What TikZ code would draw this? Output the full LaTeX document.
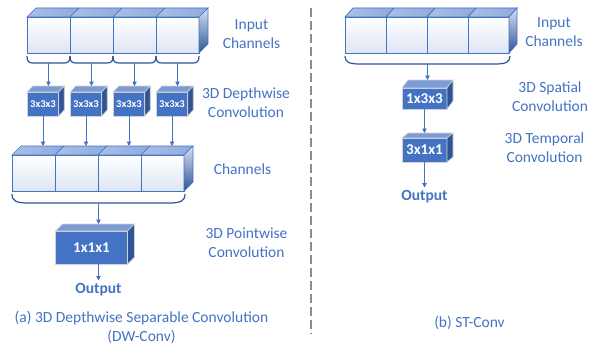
\documentclass[tikz,border=0pt]{standalone}
\usepackage{fontspec}
\setmainfont{Carlito}
\usetikzlibrary{calc,arrows.meta}

\definecolor{ublue}{HTML}{4472C4}
\definecolor{dblue}{HTML}{2F5597}
\definecolor{lblue}{HTML}{8FAADC}
\definecolor{rulegray}{HTML}{8C8C8C}

% top face of a box drawn behind the front face node #1, depth (#2 right, #3 up)
\newcommand\topface[4]{%
  \path[#4] (#1.north west) -- (#1.north east) -- ($(#1.north east)+(#2,-#3)$)
    -- ($(#1.north west)+(#2,-#3)$) -- cycle;}
% right side face of a box
\newcommand\sideface[4]{%
  \path[#4] (#1.north east) -- ($(#1.north east)+(#2,-#3)$)
    -- ($(#1.south east)+(#2,-#3)$) -- (#1.south east) -- cycle;}
% rounded bracket under a row of cells: x0, x1, ytop, depth, corner width
\newcommand\cupbrace[5]{%
  \draw[bracket] ({#1},{#3}) .. controls ({#1},{#3+#4*0.8}) and ({#1+#5*0.3},{#3+#4}) .. ({#1+#5},{#3+#4})
    -- ({#2-#5},{#3+#4}) .. controls ({#2-#5*0.3},{#3+#4}) and ({#2},{#3+#4*0.8}) .. ({#2},{#3});}

\begin{document}
\begin{tikzpicture}[x=1pt,y=-1pt,
  cubeface/.style={draw=ublue, line width=0.7pt, inner sep=0pt, outer sep=0pt,
    shading angle=-35, top color=white, bottom color=lblue!30},
  celltop/.style={draw=ublue, line width=0.7pt, left color=lblue!75, middle color=white, right color=lblue},
  cellside/.style={draw=ublue, line width=0.7pt, top color=lblue!35, bottom color=dblue},
  bluefront/.style={draw=gray!35, line width=0.6pt, fill=ublue, text=white,
    inner sep=0pt, outer sep=0pt, font=\bfseries\fontsize{15}{18}\selectfont},
  bluetop/.style={draw=gray!35, line width=0.6pt, fill=lblue!75!ublue},
  blueside/.style={draw=gray!35, line width=0.6pt, fill=dblue},
  bracket/.style={draw=dblue, line width=1.2pt},
  conn/.style={draw=ublue, line width=0.9pt, -{Triangle[length=4.5pt,width=4.5pt]}},
  lbl/.style={text=ublue, align=center, inner sep=0pt, font=\fontsize{15.5}{19}\selectfont},
  outtext/.style={text=ublue, inner sep=3pt, font=\bfseries\fontsize{15.5}{19}\selectfont},
  divider/.style={draw=rulegray, line width=1.6pt, dash pattern=on 9pt off 4pt}]
\useasboundingbox (0,0) rectangle (591,345);

% ---------------- (a) depthwise separable convolution ----------------
% input channel cells
\foreach \i in {1,...,4} {
  \node[cubeface, minimum width=43pt, minimum height=36pt] (in\i) at ({27+43*(\i-1)+21.5},35) {};
  \topface{in\i}{9}{9}{celltop}
}
\sideface{in4}{9}{9}{cellside}

% one bracket per input channel, each feeding a depthwise kernel
\foreach \i in {1,...,4} {
  \cupbrace{27+43*(\i-1)}{27+43*\i}{56}{7}{6}
  \coordinate (b\i) at ({27+43*(\i-1)+21.5},63);
  \node[bluefront, minimum width=31.5pt, minimum height=24pt,
        font=\bfseries\fontsize{10.5}{12}\selectfont] (dw\i) at ({27+43*(\i-1)+16},104) {3x3x3};
  \topface{dw\i}{5.5}{6}{bluetop}
  \sideface{dw\i}{5.5}{6}{blueside}
  \coordinate (dwt\i) at ($(dw\i.north)+(5.5,-6)$);
  \draw[conn] (b\i) -- (b\i |- dwt\i);
}

% intermediate channel cells
\foreach \i in {1,...,4} {
  \node[cubeface, minimum width=43pt, minimum height=36pt] (ch\i) at ({12+43*(\i-1)+21.5},173) {};
  \topface{ch\i}{9}{9}{celltop}
  \coordinate (cht\i) at ($(ch\i.north)+(9,-9)$);
  \draw[conn] (dw\i.south) -- (dw\i.south |- cht\i);
}
\sideface{ch4}{9}{9}{cellside}

% bracket over all channels into the pointwise kernel
\cupbrace{12}{185}{194}{9}{16}
\coordinate (cb) at (98.5,203);
\node[bluefront, minimum width=72pt, minimum height=33pt] (pw) at (91.5,247.5) {1x1x1};
\topface{pw}{7}{7}{bluetop}
\sideface{pw}{7}{7}{blueside}
\coordinate (pwt) at ($(pw.north)+(7,-7)$);
\draw[conn] (cb) -- (cb |- pwt);
\node[outtext] (outa) at (98.5,290) {Output};
\draw[conn] (outa.north |- pw.south) -- (outa.north);

% labels
\node[lbl] (la1) at (251.5,34.5) {Input\\Channels};
\node[lbl] (la2) at (246,102.5) {3D Depthwise\\Convolution};
\node[lbl] (la3) at (242.5,169) {Channels};
\node[lbl] (la4) at (246.5,242.5) {3D Pointwise\\Convolution};
\node[lbl] (capa) at (141.5,327) {(a) 3D Depthwise Separable Convolution\\(DW-Conv)};

% separator
\coordinate (sepA) at (311,8);
\coordinate (sepB) at (311,334);
\draw[divider] (sepA) -- (sepB);

% ---------------- (b) spatio-temporal convolution ----------------
\foreach \i in {1,...,4} {
  \node[cubeface, minimum width=41pt, minimum height=36pt] (rin\i) at ({345+41*(\i-1)+20.5},35) {};
  \topface{rin\i}{8}{9}{celltop}
}
\sideface{rin4}{8}{9}{cellside}
\cupbrace{345}{510}{56}{8}{15}
\coordinate (rb) at (427.5,64);

\node[bluefront, minimum width=45pt, minimum height=21pt] (sp) at (424.5,98.5) {1x3x3};
\topface{sp}{6}{8}{bluetop}
\sideface{sp}{6}{8}{blueside}
\coordinate (spt) at ($(sp.north)+(6,-8)$);
\draw[conn] (rb) -- (rb |- spt);

\node[bluefront, minimum width=45pt, minimum height=24pt] (tp) at (424.5,150) {3x1x1};
\topface{tp}{6}{5}{bluetop}
\sideface{tp}{6}{5}{blueside}
\coordinate (tpt) at ($(tp.north)+(6,-5)$);
\draw[conn] (sp.south) -- (sp.south |- tpt);

\node[outtext] (outb) at (424.5,197) {Output};
\draw[conn] (tp.south) -- (outb.north);

\node[lbl] (lb1) at (554,32) {Input\\Channels};
\node[lbl] (lb2) at (550,97) {3D Spatial\\Convolution};
\node[lbl] (lb3) at (544.5,148) {3D Temporal\\Convolution};
\node[lbl] (capb) at (469.5,323) {(b) ST-Conv};
\end{tikzpicture}
\end{document}
